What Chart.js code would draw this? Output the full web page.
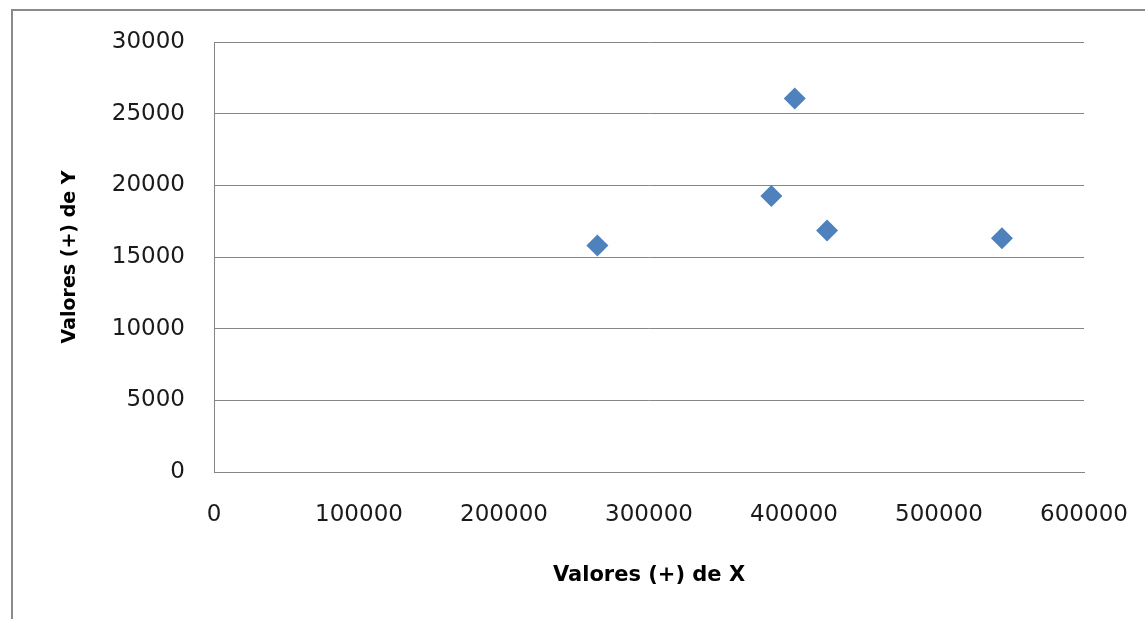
<!DOCTYPE html>
<html>
<head>
<meta charset="utf-8">
<script src="https://cdn.jsdelivr.net/npm/chart.js@4/dist/chart.umd.min.js"></script>
<style>
  html, body { margin: 0; padding: 0; background: #fff; overflow: hidden; }
  #wrap { position: relative; width: 1145px; height: 619px; }
  #frame {
    position: absolute; left: 11px; top: 9px; right: -10px; bottom: -10px;
    border-left: 2px solid #8a8a8a; border-top: 2px solid #8a8a8a;
  }
  canvas { position: absolute; left: 0; top: 0; }
</style>
</head>
<body>
<div id="wrap">
  <div id="frame"></div>
  <canvas id="chart" width="1145" height="619"></canvas>
</div>
<script>
// ===== DATA =====
const xValues = [264400, 384400, 400500, 422800, 543400];
const yValues = [15800, 19250, 26050, 16850, 16300];
const xTitle = 'Valores (+) de X';
const yTitle = 'Valores (+) de Y';

const GRID = '#868686';
const MARKER = '#4F81BD';

const points = xValues.map((x, i) => ({ x, y: yValues[i] }));
const plain = v => String(v); // no thousands separator

new Chart(document.getElementById('chart'), {
  type: 'scatter',
  data: {
    datasets: [{
      data: points,
      pointStyle: 'rectRot',
      pointRadius: 11,
      pointHoverRadius: 11,
      backgroundColor: MARKER,
      borderColor: MARKER,
      borderWidth: 0
    }]
  },
  options: {
    responsive: false,
    animation: false,
    layout: { padding: { left: 0, right: 61, top: 42, bottom: 0 } },
    plugins: { legend: { display: false }, tooltip: { enabled: false } },
    scales: {
      x: {
        type: 'linear',
        min: 0, max: 600000,
        ticks: { stepSize: 100000, padding: 29, color: '#1a1a1a', maxRotation: 0,
                 callback: plain,
                 font: { family: 'DejaVu Sans', size: 23 } },
        grid: { display: false, drawTicks: false },
        border: { display: true, color: GRID },
        title: { display: true, text: xTitle, color: '#000',
                 font: { family: 'DejaVu Sans', size: 21, weight: 'bold' },
                 padding: { bottom: 31 } },
        afterFit: s => { s.height = 147; s.paddingLeft = 0; s.paddingRight = 0; }
      },
      y: {
        type: 'linear',
        min: 0, max: 30000,
        ticks: { stepSize: 5000, padding: 29, color: '#1a1a1a',
                 callback: plain,
                 font: { family: 'DejaVu Sans', size: 23 } },
        grid: { color: GRID, drawTicks: false },
        border: { display: true, color: GRID },
        title: { display: true, text: yTitle, color: '#000',
                 font: { family: 'DejaVu Sans', size: 19, weight: 'bold' },
                 padding: { top: 59 } },
        afterFit: s => { s.width = 214; s.paddingTop = 0; s.paddingBottom = 0; }
      }
    }
  }
});
</script>
</body>
</html>
